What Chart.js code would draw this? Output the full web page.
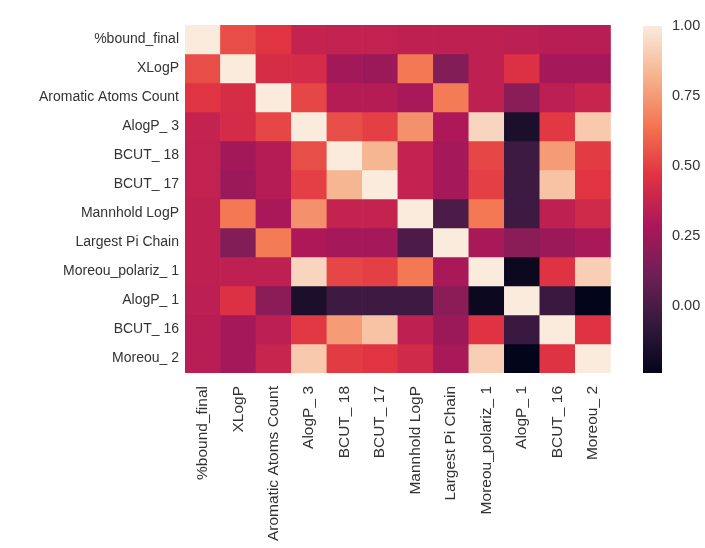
<!DOCTYPE html>
<html>
<head>
<meta charset="utf-8">
<script src="https://cdn.jsdelivr.net/npm/chart.js@4.4.1/dist/chart.umd.min.js"></script>
<style>
  html, body { margin: 0; padding: 0; background: #ffffff; }
  #heatBox { position: absolute; left: 0; top: 0; width: 625px; height: 548px; }
  #cbarBox { position: absolute; left: 625px; top: 0; width: 80px; height: 548px; }
</style>
</head>
<body>
<div id="heatBox"><canvas id="heat"></canvas></div>
<div id="cbarBox"><canvas id="cbar"></canvas></div>
<script>
// Feature names (rows top to bottom, columns left to right)
const features = [
  '%bound_final', 'XLogP', 'Aromatic Atoms Count', 'AlogP_ 3', 'BCUT_ 18', 'BCUT_ 17',
  'Mannhold LogP', 'Largest Pi Chain', 'Moreou_polariz_ 1', 'AlogP_ 1', 'BCUT_ 16', 'Moreou_ 2'
];

// Pairwise correlation coefficients, one array per row
const rowBound     = [1.00, 0.54, 0.47, 0.37, 0.36, 0.36, 0.35, 0.35, 0.35, 0.34, 0.33, 0.33];
const rowXLogP     = [0.54, 1.00, 0.43, 0.42, 0.26, 0.24, 0.65, 0.17, 0.35, 0.45, 0.27, 0.27];
const rowAromatic  = [0.47, 0.43, 1.00, 0.52, 0.32, 0.32, 0.28, 0.66, 0.35, 0.19, 0.34, 0.38];
const rowAlogP3    = [0.37, 0.42, 0.52, 1.00, 0.54, 0.50, 0.72, 0.30, 0.93, -0.15, 0.48, 0.89];
const rowBCUT18    = [0.36, 0.26, 0.32, 0.54, 1.00, 0.83, 0.37, 0.27, 0.52, -0.04, 0.75, 0.49];
const rowBCUT17    = [0.36, 0.24, 0.32, 0.50, 0.83, 1.00, 0.37, 0.27, 0.50, -0.04, 0.87, 0.47];
const rowMannhold  = [0.35, 0.65, 0.28, 0.72, 0.37, 0.37, 1.00, 0.01, 0.65, -0.04, 0.35, 0.41];
const rowLargestPi = [0.35, 0.17, 0.66, 0.30, 0.27, 0.27, 0.01, 1.00, 0.28, 0.19, 0.24, 0.28];
const rowMoreouPol = [0.35, 0.35, 0.35, 0.93, 0.52, 0.50, 0.65, 0.28, 1.00, -0.21, 0.46, 0.91];
const rowAlogP1    = [0.34, 0.45, 0.19, -0.15, -0.04, -0.04, -0.04, 0.19, -0.21, 1.00, -0.05, -0.24];
const rowBCUT16    = [0.33, 0.27, 0.34, 0.48, 0.75, 0.87, 0.35, 0.24, 0.46, -0.05, 1.00, 0.46];
const rowMoreou2   = [0.33, 0.27, 0.38, 0.89, 0.49, 0.47, 0.41, 0.28, 0.91, -0.24, 0.46, 1.00];

const corrRows = [rowBound, rowXLogP, rowAromatic, rowAlogP3, rowBCUT18, rowBCUT17,
                  rowMannhold, rowLargestPi, rowMoreouPol, rowAlogP1, rowBCUT16, rowMoreou2];

// Colour bar tick values
const colorbarTicks = [0.00, 0.25, 0.50, 0.75, 1.00];

// "rocket" sequential colour map anchor stops
const rocketStops = [
  [0.000, [3, 5, 26]],
  [0.143, [53, 25, 62]],
  [0.286, [112, 31, 87]],
  [0.429, [173, 23, 89]],
  [0.571, [225, 51, 66]],
  [0.714, [243, 118, 81]],
  [0.857, [246, 180, 143]],
  [1.000, [250, 235, 221]]
];

const vmin = Math.min(...corrRows.flat());
const vmax = Math.max(...corrRows.flat());

function rocket(t) {
  t = Math.max(0, Math.min(1, t));
  for (let i = 1; i < rocketStops.length; i++) {
    const [p1, c1] = rocketStops[i];
    const [p0, c0] = rocketStops[i - 1];
    if (t <= p1) {
      const f = (t - p0) / (p1 - p0);
      const c = c0.map((v, k) => Math.round(v + (c1[k] - v) * f));
      return `rgb(${c[0]},${c[1]},${c[2]})`;
    }
  }
  const c = rocketStops[rocketStops.length - 1][1];
  return `rgb(${c[0]},${c[1]},${c[2]})`;
}
const colorOf = v => rocket((v - vmin) / (vmax - vmin));

const textColor = '#333333';
const fontFamily = "'Liberation Sans', Arial, sans-serif";

// Each row is a dataset of floating bars spanning [row, row + 1]
const heatDatasets = corrRows.map((row, r) => ({
  label: features[r],
  data: row.map(() => [r, r + 1]),
  backgroundColor: row.map(colorOf),
  borderWidth: 0,
  barPercentage: 1.0,
  categoryPercentage: 1.0,
  grouped: false
}));

new Chart(document.getElementById('heat'), {
  type: 'bar',
  data: { labels: features, datasets: heatDatasets },
  options: {
    responsive: true,
    maintainAspectRatio: false,
    animation: false,
    layout: { padding: { left: 0, right: 8, top: 25, bottom: 0 } },
    plugins: { legend: { display: false }, tooltip: { enabled: false } },
    scales: {
      x: {
        type: 'category',
        grid: { display: false, drawTicks: false },
        border: { display: false },
        ticks: {
          autoSkip: false, maxRotation: 90, minRotation: 90, padding: 13,
          color: textColor, font: { family: fontFamily, size: 15.5 }
        },
        afterFit: s => { s.height = 175; }
      },
      y: {
        type: 'linear', min: 0, max: features.length, reverse: true,
        grid: { display: false, drawTicks: false },
        border: { display: false },
        afterBuildTicks: s => { s.ticks = features.map((_, i) => ({ value: i + 0.5 })); },
        ticks: {
          autoSkip: false, padding: 6, color: textColor,
          font: { family: fontFamily, size: 14 },
          callback: (v, i) => features[i]
        },
        afterFit: s => { s.width = 185; }
      }
    }
  }
});

// Colour bar: a single floating bar from vmin to vmax filled with the colour map
new Chart(document.getElementById('cbar'), {
  type: 'bar',
  data: {
    labels: [''],
    datasets: [{
      data: [[vmin, vmax]],
      borderWidth: 0,
      barPercentage: 1.0,
      categoryPercentage: 1.0,
      backgroundColor: ctx => {
        const chart = ctx.chart;
        if (!chart.chartArea) return '#000';
        const y = chart.scales.y;
        const g = chart.ctx.createLinearGradient(0, y.getPixelForValue(vmin), 0, y.getPixelForValue(vmax));
        rocketStops.forEach(([p, c]) => g.addColorStop(p, `rgb(${c[0]},${c[1]},${c[2]})`));
        return g;
      }
    }]
  },
  options: {
    responsive: true,
    maintainAspectRatio: false,
    animation: false,
    layout: { padding: { left: 18, right: 0, top: 26, bottom: 175 } },
    plugins: { legend: { display: false }, tooltip: { enabled: false } },
    scales: {
      x: { display: false },
      y: {
        position: 'right', min: vmin, max: vmax,
        grid: { display: false, drawTicks: false },
        border: { display: false },
        afterBuildTicks: s => { s.ticks = colorbarTicks.map(v => ({ value: v })); },
        ticks: {
          padding: 10, color: textColor,
          font: { family: fontFamily, size: 14.5 },
          callback: v => Number(v).toFixed(2)
        },
        afterFit: s => { s.width = 43; }
      }
    }
  }
});
</script>
</body>
</html>
